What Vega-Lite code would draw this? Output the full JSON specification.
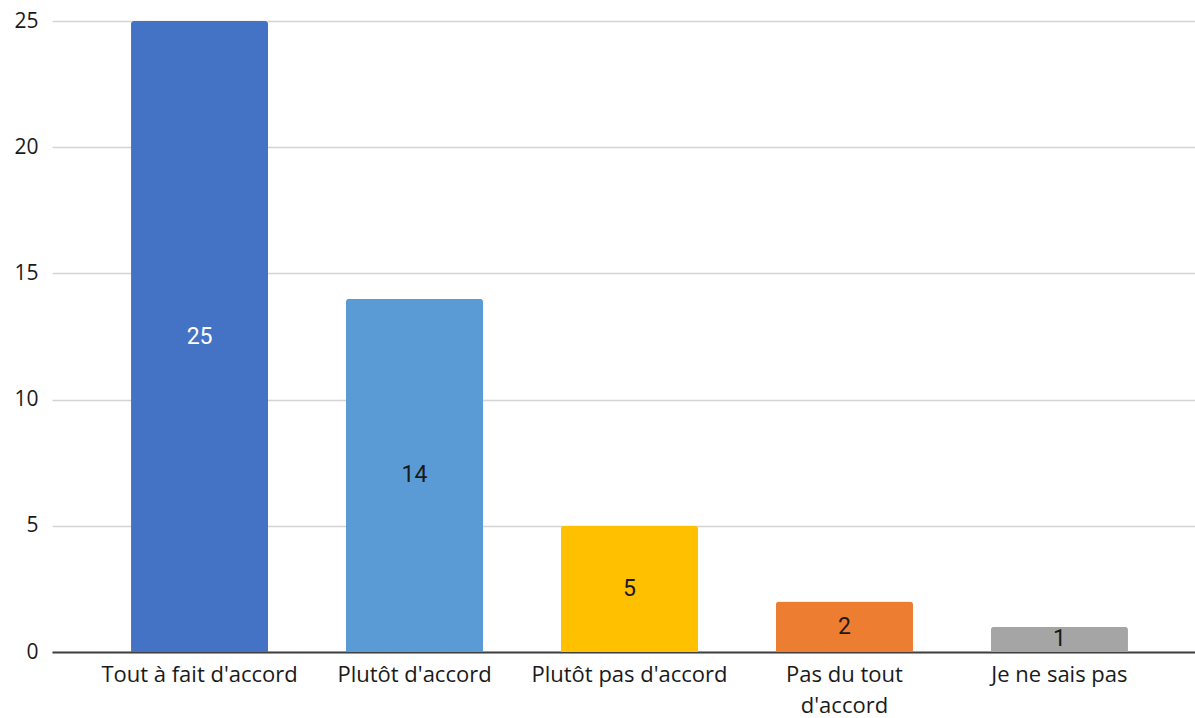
{
  "$schema": "https://vega.github.io/schema/vega-lite/v6.json",
  "width": 1143,
  "height": 631,
  "autosize": {"type": "none"},
  "padding": {"left": 52, "top": 21, "right": 0, "bottom": 66},
  "background": "white",
  "config": {"view": {"stroke": null}},
  "data": {"values": [
    {"cat": "Tout à fait d'accord", "n": 25, "color": "#4472C4", "tcolor": "#ffffff"},
    {"cat": "Plutôt d'accord", "n": 14, "color": "#5B9BD5", "tcolor": "#1a1a1a"},
    {"cat": "Plutôt pas d'accord", "n": 5, "color": "#FFC000", "tcolor": "#1a1a1a"},
    {"cat": "Pas du tout d'accord", "n": 2, "color": "#ED7D31", "tcolor": "#1a1a1a"},
    {"cat": "Je ne sais pas", "n": 1, "color": "#A5A5A5", "tcolor": "#1a1a1a"}
  ]},
  "encoding": {
    "x": {
      "field": "cat", "type": "nominal", "sort": null,
      "scale": {"range": [0, 1155], "paddingInner": 0.3625, "paddingOuter": 0.3676},
      "axis": {
        "title": null, "labelAngle": 0, "ticks": false, "domainColor": "#404040", "domainWidth": 2,
        "labelFont": "Open Sans", "labelFontSize": 22, "labelColor": "#1a1a1a", "labelPadding": 12,
        "labelLineHeight": 31, "labelBaseline": "top", "labelLimit": 400,
        "labelExpr": "datum.value == \"Pas du tout d'accord\" ? ['Pas du tout', \"d'accord\"] : datum.value"
      }
    },
    "y": {
      "field": "n", "type": "quantitative",
      "scale": {"domain": [0, 25], "nice": false},
      "axis": {
        "title": null, "values": [0, 5, 10, 15, 20, 25], "ticks": false, "domain": false,
        "gridColor": "#d4d4d4", "gridWidth": 1.5,
        "labelFont": "Open Sans", "labelFontSize": 21, "labelColor": "#1a1a1a", "labelPadding": 14
      }
    }
  },
  "layer": [
    {
      "mark": {"type": "bar", "cornerRadiusTopLeft": 3, "cornerRadiusTopRight": 3},
      "encoding": {"color": {"field": "color", "type": "nominal", "scale": null, "legend": null}}
    },
    {
      "transform": [{"calculate": "datum.n / 2", "as": "mid"}],
      "mark": {"type": "text", "font": "Roboto", "fontSize": 23, "baseline": "middle", "align": "center"},
      "encoding": {
        "y": {"field": "mid", "type": "quantitative"},
        "text": {"field": "n", "type": "quantitative"},
        "color": {"field": "tcolor", "type": "nominal", "scale": null, "legend": null}
      }
    }
  ]
}
